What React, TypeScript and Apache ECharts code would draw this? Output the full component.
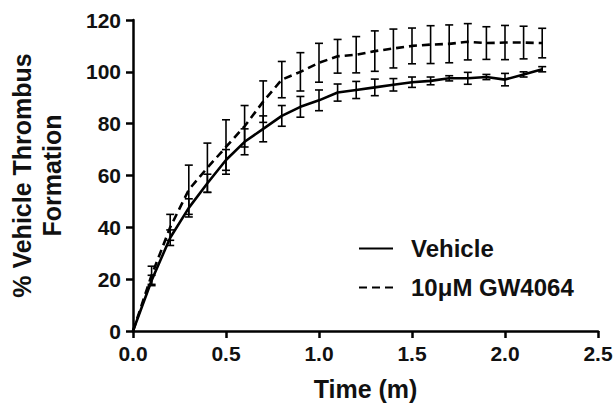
import React, { useEffect, useRef } from "react";
import * as echarts from "echarts";

const times = [0, 0.1, 0.2, 0.3, 0.4, 0.5, 0.6, 0.7, 0.8, 0.9, 1.0, 1.1, 1.2, 1.3, 1.4, 1.5, 1.6, 1.7, 1.8, 1.9, 2.0, 2.1, 2.2];
const vehicle = [0, 19.5, 36, 47.5, 57, 66, 73, 78, 83, 86.5, 89, 92, 93, 94, 95, 96, 96.5, 97.5, 97.5, 98, 97, 99, 101];
const vehicleErr = [0, 2, 3, 3.5, 3.5, 4, 5, 5, 4, 4, 4, 3.3, 3.3, 3.2, 2.4, 2, 1.5, 1, 2.3, 1, 2.4, 1, 1];
const gw = [0, 21.5, 40, 54.5, 63, 71, 79, 88.5, 97, 100, 103.5, 106, 106.6, 108, 109, 110, 110.5, 110.8, 111.6, 111.1, 111.3, 111.3, 111.1];
const gwErr = [0, 3.5, 5, 9.5, 9.5, 10.5, 8, 8, 7, 7.4, 7.5, 6.5, 7, 7.8, 7.5, 6.9, 7.3, 7.3, 7, 6.3, 6.6, 6.3, 5.7];

const seriesNames = ["Vehicle", "10μM GW4064"];
const xTitle = "Time (m)";
const yTitle = "% Vehicle Thrombus\nFormation";

const FONT = "'Liberation Sans', Arial, sans-serif";

function errData(vals: number[], errs: number[]) {
  return times.map((t, i) => [t, vals[i] - errs[i], vals[i] + errs[i]]);
}

function renderErr(params: any, api: any) {
  const x = api.value(0);
  const lo = api.coord([x, api.value(1)]);
  const hi = api.coord([x, api.value(2)]);
  if (Math.abs(lo[1] - hi[1]) < 0.5) return null;
  const cap = 4;
  const style = { stroke: "#000", lineWidth: 1.6 };
  return {
    type: "group",
    children: [
      { type: "line", shape: { x1: lo[0], y1: lo[1], x2: hi[0], y2: hi[1] }, style },
      { type: "line", shape: { x1: lo[0] - cap, y1: lo[1], x2: lo[0] + cap, y2: lo[1] }, style },
      { type: "line", shape: { x1: hi[0] - cap, y1: hi[1], x2: hi[0] + cap, y2: hi[1] }, style },
    ],
  };
}

export default function App() {
  const ref = useRef<HTMLDivElement>(null);
  useEffect(() => {
    const chart = echarts.init(ref.current!, undefined, { renderer: "svg" });
    const axisCommon = {
      axisLine: { show: true, lineStyle: { color: "#000", width: 2.5 } },
      axisTick: { show: true, inside: false, length: 7, lineStyle: { color: "#000", width: 2.5 } },
      splitLine: { show: false },
    };
    chart.setOption({
      animation: false,
      backgroundColor: "#fff",
      grid: { left: 133, right: 17, top: 20, bottom: 73, containLabel: false, outerBoundsMode: "none" },
      legend: {
        orient: "vertical",
        left: 353,
        top: 231,
        itemWidth: 34,
        itemHeight: 14,
        itemGap: 14,
        data: seriesNames,
        itemStyle: { color: "rgba(0,0,0,0)", borderWidth: 0, opacity: 0 },
        textStyle: { fontFamily: FONT, fontSize: 24, fontWeight: "bold", color: "#111", lineHeight: 25, padding: [0, 0, 0, 13] },
      },
      xAxis: {
        type: "value",
        min: 0,
        max: 2.5,
        interval: 0.5,
        name: xTitle,
        nameLocation: "middle",
        nameGap: 45,
        nameTextStyle: { fontFamily: FONT, fontSize: 25, fontWeight: "bold", color: "#111", lineHeight: 25 },
        axisLabel: { fontFamily: FONT, fontSize: 21, fontWeight: "bold", color: "#111", margin: 12, formatter: (v: number) => v.toFixed(1) },
        ...axisCommon,
      },
      yAxis: {
        type: "value",
        min: 0,
        max: 120,
        interval: 20,
        name: yTitle,
        nameLocation: "middle",
        nameRotate: 90,
        nameGap: 66,
        nameTextStyle: { fontFamily: FONT, fontSize: 25, fontWeight: "bold", color: "#111", lineHeight: 30 },
        axisLabel: { fontFamily: FONT, fontSize: 21, fontWeight: "bold", color: "#111", margin: 12 },
        ...axisCommon,
      },
      series: [
        {
          name: seriesNames[0],
          type: "line",
          data: times.map((t, i) => [t, vehicle[i]]),
          symbol: "none",
          lineStyle: { color: "#000", width: 2.6, type: "solid" },
          itemStyle: { color: "#000" },
          z: 3,
        },
        {
          name: seriesNames[1],
          type: "line",
          data: times.map((t, i) => [t, gw[i]]),
          symbol: "none",
          lineStyle: { color: "#000", width: 2.6, type: [8, 5] },
          itemStyle: { color: "#000" },
          z: 3,
        },
        {
          type: "custom",
          renderItem: renderErr,
          data: errData(vehicle, vehicleErr),
          encode: { x: 0, y: [1, 2] },
          z: 2,
        },
        {
          type: "custom",
          renderItem: renderErr,
          data: errData(gw, gwErr),
          encode: { x: 0, y: [1, 2] },
          z: 2,
        },
      ],
    });
    return () => chart.dispose();
  }, []);
  return <div ref={ref} style={{ width: 615, height: 404, position: "absolute", left: 0, top: 0 }} />;
}
